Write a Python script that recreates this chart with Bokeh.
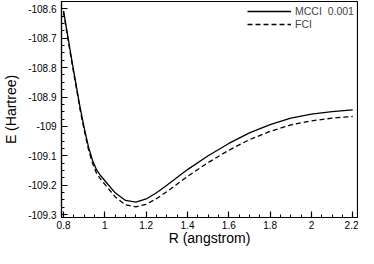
from bokeh.plotting import figure
from bokeh.models import FixedTicker, Range1d, Legend, LegendItem
from bokeh.embed import file_html
from bokeh.resources import INLINE

R = [0.8, 0.84, 0.88, 0.9, 0.92, 0.94, 0.96, 0.98, 1.0, 1.05, 1.1, 1.15,
     1.2, 1.25, 1.3, 1.4, 1.5, 1.6, 1.7, 1.8, 1.9, 2.0, 2.1, 2.2]
E_mcci = [-108.607, -108.775, -108.935, -109.005, -109.068, -109.115,
          -109.148, -109.168, -109.185, -109.226, -109.252, -109.258,
          -109.247, -109.226, -109.200, -109.147, -109.100, -109.058,
          -109.022, -108.994, -108.972, -108.958, -108.950, -108.944]
E_fci = [-108.612, -108.782, -108.943, -109.013, -109.077, -109.125,
         -109.160, -109.180, -109.197, -109.240, -109.267, -109.274,
         -109.265, -109.246, -109.222, -109.170, -109.123, -109.081,
         -109.045, -109.017, -108.995, -108.981, -108.972, -108.966]

x_ticks = [0.8, 1.0, 1.2, 1.4, 1.6, 1.8, 2.0, 2.2]
x_labels = ["0.8", "1", "1.2", "1.4", "1.6", "1.8", "2", "2.2"]
y_ticks = [-109.3, -109.2, -109.1, -109.0, -108.9, -108.8, -108.7, -108.6]
y_labels = ["-109.3", "-109.2", "-109.1", "-109", "-108.9", "-108.8", "-108.7", "-108.6"]
series_names = ["MCCI  0.001", "FCI"]

FONT = "Liberation Sans"

p = figure(width=358, height=248, output_backend="svg", toolbar_location=None,
           x_range=Range1d(0.79, 2.223), y_range=Range1d(-109.31, -108.575),
           min_border_left=46, min_border_right=1, min_border_top=1,
           min_border_bottom=0)

l1 = p.line(R, E_mcci, line_color="black", line_width=1.3, line_join="round")
l2 = p.line(R, E_fci, line_color="black", line_width=1.3, line_dash="5 3",
            line_join="round")

p.xgrid.visible = False
p.ygrid.visible = False
p.outline_line_color = "black"
p.outline_line_width = 1.2
p.outline_line_alpha = 1.0

xminor = [round(0.8 + 0.05 * i, 3) for i in range(29) if i % 4 != 0]
yminor = [round(-109.3 + 0.025 * i, 4) for i in range(29) if i % 4 != 0]

p.xaxis.ticker = FixedTicker(ticks=x_ticks, minor_ticks=xminor)
p.yaxis.ticker = FixedTicker(ticks=y_ticks, minor_ticks=yminor)
p.xaxis.major_label_overrides = {t: l for t, l in zip(x_ticks, x_labels)}
p.yaxis.major_label_overrides = {t: l for t, l in zip(y_ticks, y_labels)}

for ax in (p.xaxis, p.yaxis):
    ax.axis_line_color = "black"
    ax.axis_line_width = 1.2
    ax.major_tick_in = 6
    ax.major_tick_out = 0
    ax.minor_tick_in = 3
    ax.minor_tick_out = 0
    ax.major_tick_line_color = "black"
    ax.minor_tick_line_color = "black"
    ax.major_tick_line_width = 1.2
    ax.major_label_text_font = FONT
    ax.major_label_text_font_size = "10px"
    ax.major_label_text_color = "black"
    ax.axis_label_text_font = FONT
    ax.axis_label_text_font_size = "14px"
    ax.axis_label_text_font_style = "normal"
    ax.axis_label_text_color = "black"

p.xaxis.axis_label = "R (angstrom)"
p.yaxis.axis_label = "E (Hartree)"
p.xaxis.major_label_standoff = 3
p.yaxis.major_label_standoff = 5
p.xaxis.axis_label_standoff = -2
p.yaxis.axis_label_standoff = 6

legend = Legend(items=[LegendItem(label=series_names[0], renderers=[l1]),
                       LegendItem(label=series_names[1], renderers=[l2])],
                location=(186, 187))
legend.border_line_color = None
legend.background_fill_alpha = 0
legend.label_text_font = FONT
legend.label_text_font_size = "10.5px"
legend.glyph_width = 44
legend.glyph_height = 12
legend.label_height = 12
legend.label_standoff = 4
legend.spacing = 1
legend.padding = 2
legend.margin = 0
p.add_layout(legend)

open("out.html", "w").write(file_html(p, INLINE))
